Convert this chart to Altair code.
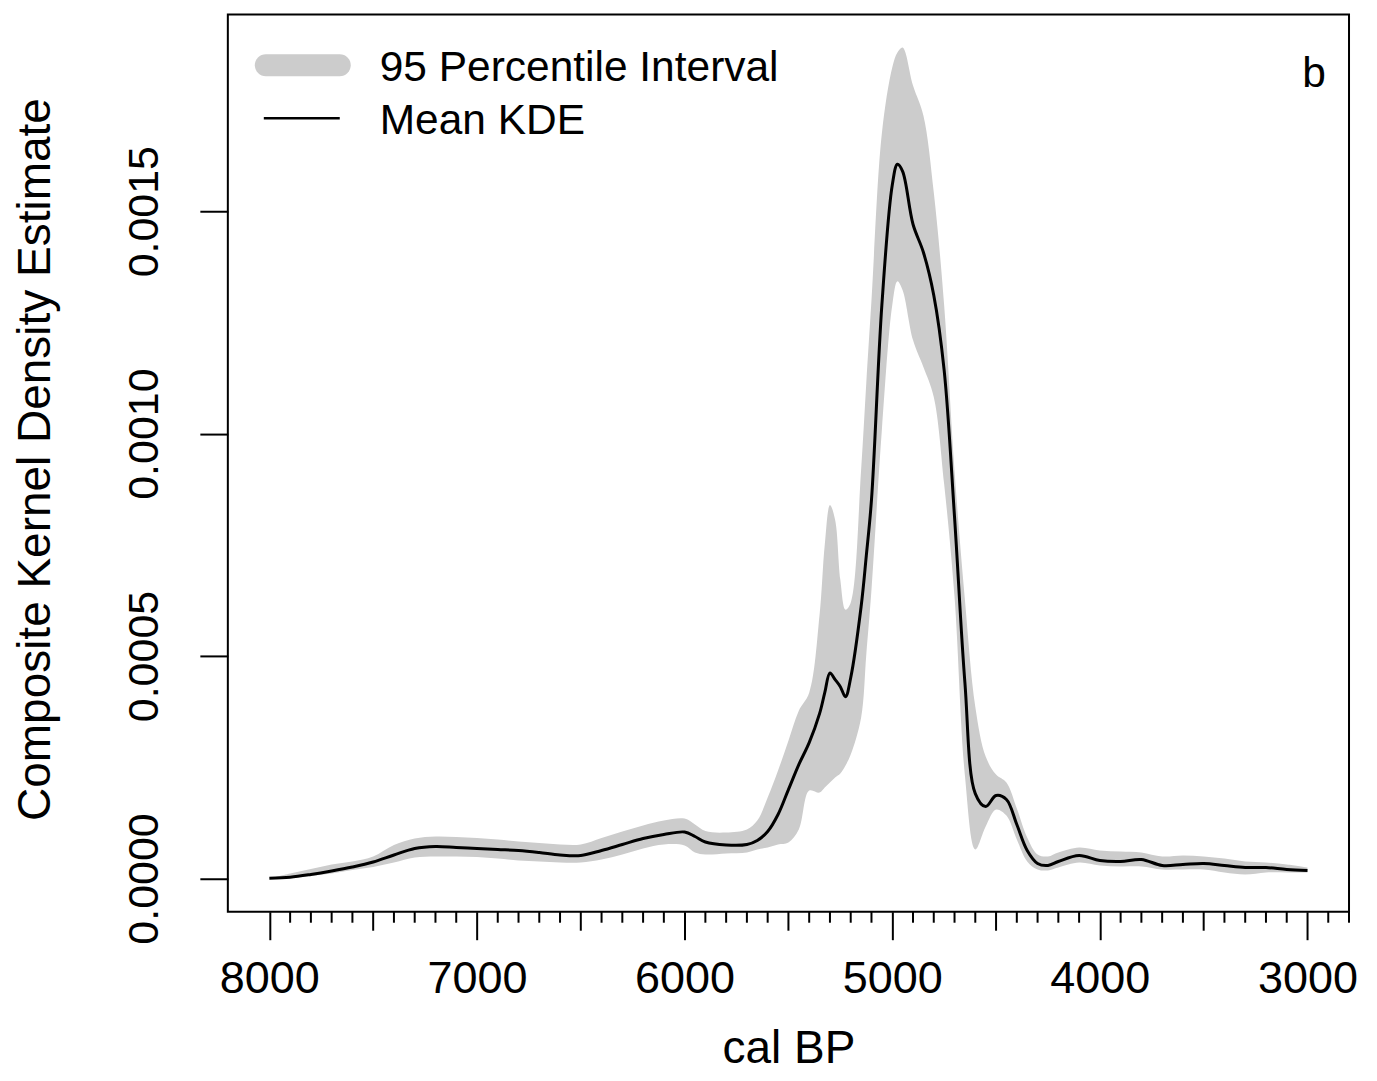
import altair as alt
import pandas as pd

# ---- data ----
years = [8000, 7900, 7800, 7700, 7600, 7500, 7400, 7300, 7200, 7100, 7000,
         6900, 6800, 6700, 6600, 6500, 6400, 6300, 6200, 6100, 6000,
         5950, 5900, 5800, 5700, 5650, 5600, 5550, 5500, 5450, 5400,
         5350, 5325, 5300, 5275, 5250, 5225, 5200, 5150, 5125, 5100,
         5050, 5000, 4975, 4950, 4900, 4850, 4800, 4750, 4700, 4650,
         4600, 4550, 4500, 4450, 4400, 4350, 4300, 4250, 4200,
         4100, 4000, 3900, 3800, 3700, 3600, 3500, 3400, 3300, 3200, 3100, 3000]

mean_kde = [0.002e-4, 0.027e-4, 0.090e-4, 0.168e-4, 0.258e-4, 0.370e-4, 0.528e-4, 0.674e-4, 0.718e-4, 0.696e-4, 0.674e-4,
            0.651e-4, 0.629e-4, 0.584e-4, 0.528e-4, 0.516e-4, 0.629e-4, 0.763e-4, 0.898e-4, 0.988e-4, 1.044e-4,
            0.943e-4, 0.819e-4, 0.752e-4, 0.763e-4, 0.853e-4, 1.055e-4, 1.437e-4, 1.998e-4, 2.560e-4, 3.053e-4,
            3.705e-4, 4.176e-4, 4.620e-4, 4.470e-4, 4.311e-4, 4.086e-4, 4.513e-4, 6.107e-4, 7.252e-4, 8.509e-4,
            12.887e-4, 15.582e-4, 16.053e-4, 15.896e-4, 14.706e-4, 14.077e-4, 13.112e-4, 11.428e-4, 8.128e-4, 4.401e-4,
            1.908e-4, 1.617e-4, 1.864e-4, 1.774e-4, 1.212e-4, 0.629e-4, 0.337e-4, 0.292e-4, 0.382e-4,
            0.516e-4, 0.404e-4, 0.382e-4, 0.427e-4, 0.292e-4, 0.314e-4, 0.337e-4, 0.292e-4, 0.247e-4, 0.247e-4, 0.202e-4, 0.180e-4]

upper_95 = [0.0, 0.112e-4, 0.213e-4, 0.314e-4, 0.382e-4, 0.494e-4, 0.752e-4, 0.898e-4, 0.943e-4, 0.932e-4, 0.909e-4,
            0.876e-4, 0.831e-4, 0.797e-4, 0.763e-4, 0.763e-4, 0.909e-4, 1.055e-4, 1.190e-4, 1.302e-4, 1.347e-4,
            1.212e-4, 1.066e-4, 1.033e-4, 1.100e-4, 1.302e-4, 1.819e-4, 2.425e-4, 3.098e-4, 3.772e-4, 4.176e-4,
            5.927e-4, 7.499e-4, 8.397e-4, 8.060e-4, 6.713e-4, 6.040e-4, 6.197e-4, 9.183e-4, 11.136e-4, 13.000e-4,
            16.749e-4, 18.231e-4, 18.568e-4, 18.680e-4, 17.827e-4, 17.153e-4, 15.425e-4, 12.887e-4, 9.160e-4, 6.264e-4,
            3.862e-4, 2.739e-4, 2.335e-4, 2.155e-4, 1.572e-4, 0.921e-4, 0.539e-4, 0.494e-4, 0.584e-4,
            0.696e-4, 0.629e-4, 0.606e-4, 0.584e-4, 0.494e-4, 0.516e-4, 0.494e-4, 0.449e-4, 0.382e-4, 0.359e-4, 0.314e-4, 0.247e-4]

lower_95 = [0.0, 0.011e-4, 0.056e-4, 0.112e-4, 0.191e-4, 0.258e-4, 0.359e-4, 0.471e-4, 0.494e-4, 0.494e-4, 0.483e-4,
            0.449e-4, 0.404e-4, 0.382e-4, 0.359e-4, 0.359e-4, 0.427e-4, 0.539e-4, 0.674e-4, 0.763e-4, 0.741e-4,
            0.584e-4, 0.539e-4, 0.561e-4, 0.584e-4, 0.651e-4, 0.696e-4, 0.763e-4, 0.808e-4, 1.100e-4, 1.976e-4,
            1.931e-4, 2.043e-4, 2.155e-4, 2.268e-4, 2.357e-4, 2.537e-4, 2.784e-4, 3.615e-4, 5.029e-4, 6.489e-4,
            10.081e-4, 12.887e-4, 13.426e-4, 13.224e-4, 12.102e-4, 11.495e-4, 10.822e-4, 8.869e-4, 6.331e-4, 2.313e-4,
            0.651e-4, 1.168e-4, 1.549e-4, 1.414e-4, 0.876e-4, 0.382e-4, 0.202e-4, 0.180e-4, 0.247e-4,
            0.359e-4, 0.292e-4, 0.269e-4, 0.269e-4, 0.202e-4, 0.202e-4, 0.202e-4, 0.135e-4, 0.090e-4, 0.135e-4, 0.135e-4, 0.135e-4]

x_major_ticks = [8000, 7000, 6000, 5000, 4000, 3000]
x_mid_ticks = [7500, 6500, 5500, 4500, 3500]
x_minor_ticks = [t for t in range(8000, 2799, -100) if t % 500 != 0]
y_ticks = [0.0, 0.0005, 0.0010, 0.0015]
legend_labels = ["95 Percentile Interval", "Mean KDE"]
panel_label = "b"
x_title = "cal BP"
y_title = "Composite Kernel Density Estimate"

# ---- chart ----
FONT = "Liberation Sans"
FS_XLAB = 45
FS_YLAB = 43
FS_TITLE = 46
FS_LEG = 42.5
BAND = "#cccccc"
W, H = 1122, 898

df = pd.DataFrame({"year": years, "mean": mean_kde, "lo": lower_95, "hi": upper_95})
one = pd.DataFrame({"d": [0]})

xscale = alt.Scale(domain=[8200, 2800], nice=False, zero=False)
yscale = alt.Scale(domain=[-0.0000748, 0.0019424], nice=False, zero=False)

xaxis = alt.Axis(values=x_major_ticks, format="d", tickSize=28, tickWidth=2, tickColor="black",
                 labelFontSize=FS_XLAB, labelFont=FONT, labelColor="black", labelPadding=17,
                 labelFlush=False, labelOverlap=False, domain=False, grid=False,
                 title=x_title, titleFontSize=FS_TITLE, titleFont=FONT, titleFontWeight="normal",
                 titleColor="black", titleY=151, titleBaseline="alphabetic")
yaxis = alt.Axis(values=y_ticks, format=".4f", tickSize=28, tickWidth=2, tickColor="black",
                 labelFontSize=FS_YLAB, labelFont=FONT, labelColor="black", labelPadding=42,
                 labelAngle=270, labelAlign="center", labelBaseline="alphabetic",
                 labelFlush=False, labelOverlap=False, domain=False, grid=False,
                 title=y_title, titleFontSize=FS_TITLE, titleFont=FONT, titleFontWeight="normal",
                 titleColor="black", titleAngle=270, titleX=-178, titleY=H / 2 - 4,
                 titleBaseline="alphabetic", titleAlign="center")

band = alt.Chart(df).mark_area(color=BAND, opacity=1, interpolate="catmull-rom").encode(
    x=alt.X("year:Q", scale=xscale, axis=xaxis),
    y=alt.Y("lo:Q", scale=yscale, axis=yaxis),
    y2="hi:Q",
)
line = alt.Chart(df).mark_line(color="black", strokeWidth=3, interpolate="catmull-rom").encode(
    x=alt.X("year:Q", scale=xscale, axis=xaxis),
    y=alt.Y("mean:Q", scale=yscale, axis=yaxis),
)

def tick_layer(values, length):
    return alt.Chart(pd.DataFrame({"t": values})).mark_rule(
        color="black", strokeWidth=2, clip=False).encode(
        x=alt.X("t:Q", scale=xscale, axis=xaxis),
        y=alt.value(H), y2=alt.value(H + length))

mid_ticks = tick_layer(x_mid_ticks, 19)
minor_ticks = tick_layer(x_minor_ticks, 11)

leg_band = alt.Chart(one).mark_rule(color=BAND, strokeWidth=22, strokeCap="round").encode(
    x=alt.value(38), x2=alt.value(112), y=alt.value(51))
leg_line = alt.Chart(one).mark_rule(color="black", strokeWidth=2.5).encode(
    x=alt.value(36), x2=alt.value(112), y=alt.value(104))
leg_t1 = alt.Chart(one).mark_text(align="left", baseline="alphabetic", font=FONT, fontSize=FS_LEG,
                                  color="black").encode(
    x=alt.value(152), y=alt.value(67), text=alt.value(legend_labels[0]))
leg_t2 = alt.Chart(one).mark_text(align="left", baseline="alphabetic", font=FONT, fontSize=FS_LEG,
                                  color="black").encode(
    x=alt.value(152), y=alt.value(120), text=alt.value(legend_labels[1]))
panel = alt.Chart(one).mark_text(align="center", baseline="alphabetic", font=FONT, fontSize=FS_LEG,
                                 color="black").encode(
    x=alt.value(1087), y=alt.value(73), text=alt.value(panel_label))

chart = alt.layer(band, line, mid_ticks, minor_ticks, leg_band, leg_line, leg_t1, leg_t2, panel).properties(
    width=W, height=H,
    padding={"left": 220, "top": 6, "right": 20, "bottom": 161},
    autosize=alt.AutoSizeParams(type="none"),
    background="white",
).configure_view(stroke="black", strokeWidth=2)

chart.save("out.html", embed_options={"renderer": "svg", "actions": False})
